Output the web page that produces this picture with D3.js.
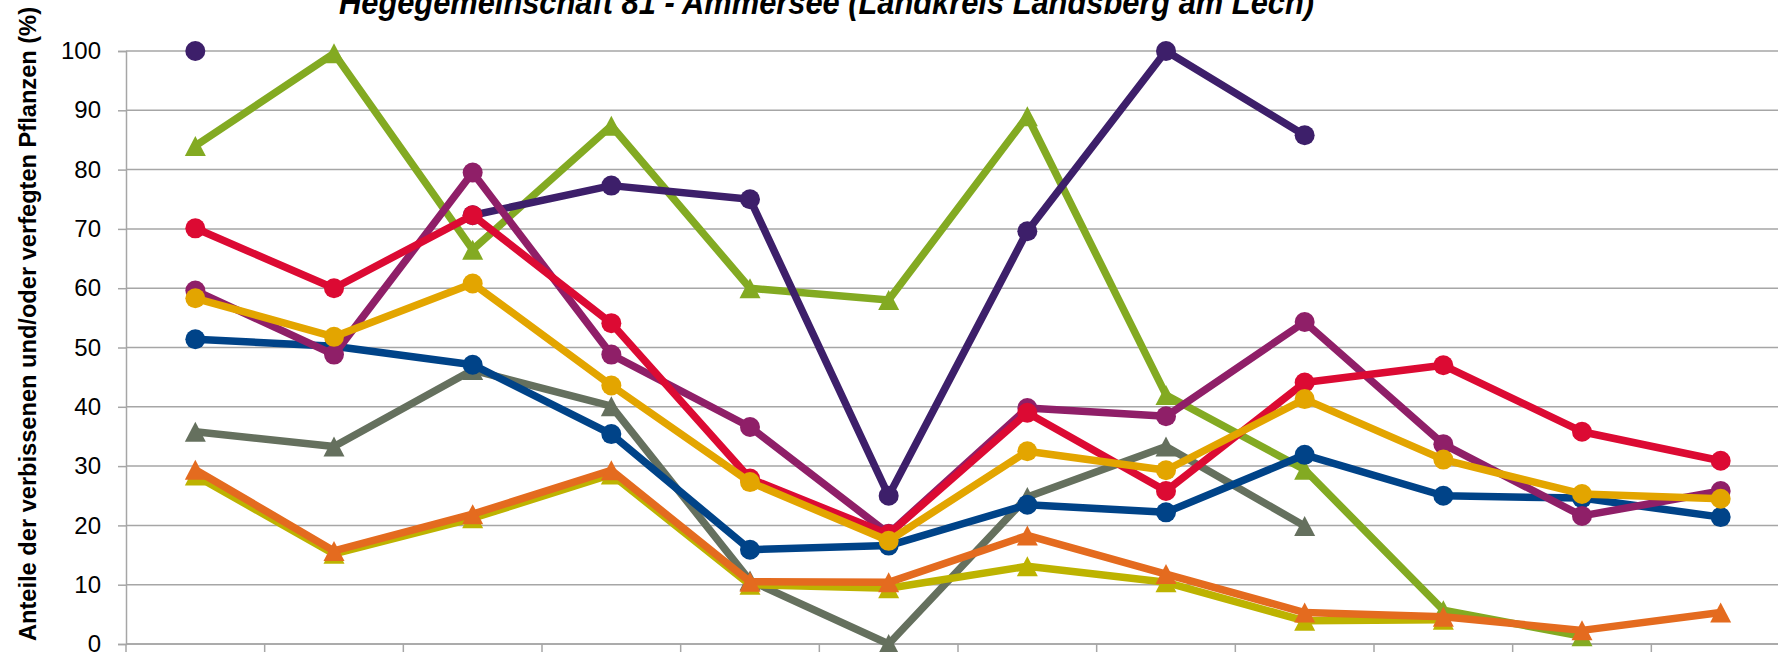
<!DOCTYPE html>
<html>
<head>
<meta charset="utf-8">
<script src="https://cdn.jsdelivr.net/npm/d3@7"></script>
<style>
  html, body { margin: 0; padding: 0; background: #ffffff; }
  svg { display: block; }
</style>
</head>
<body>
<svg id="chart" width="1778" height="652"></svg>
<script>
// ---- data ----
const categories = ["1991","1994","1997","2000","2003","2006","2009","2012","2015","2018","2021","2024"];
const yTicks = [0,10,20,30,40,50,60,70,80,90,100];
const titleText = "Hegegemeinschaft 81 - Ammersee (Landkreis Landsberg am Lech)";
const yLabel = "Anteile der verbissenen und/oder verfegten Pflanzen (%)";

const limeValues    = [84.0, 99.6, 66.5, 87.4, 60.0, 58.0, 89.0, 42.0, 29.4, 5.7, 1.3, null];
const grayValues    = [35.8, 33.3, 46.2, 40.1, 10.7, 0.0, 24.8, 33.3, 19.9, null, null, null];
const oliveValues   = [28.4, 15.2, 21.2, 28.6, 10.0, 9.4, 13.1, 10.4, 3.9, 4.1, null, null];
const orangeValues  = [29.4, 15.7, 21.9, 29.3, 10.5, 10.4, 18.3, 11.8, 5.3, 4.6, 2.3, 5.3];
const purpleValues  = [100.0, null, 72.3, 77.3, 75.0, 25.0, 69.6, 100.0, 85.8, null, null, null];
const blueValues    = [51.4, 50.2, 47.1, 35.4, 15.9, 16.6, 23.5, 22.2, 31.9, 25.0, 24.6, 21.4];
const magentaValues = [59.6, 48.8, 79.5, 48.8, 36.6, 18.6, 39.8, 38.4, 54.3, 33.7, 21.6, 25.8];
const redValues     = [70.1, 60.0, 72.3, 54.1, 27.9, 18.5, 39.0, 25.8, 44.1, 47.0, 35.8, 30.9];
const yellowValues  = [58.3, 51.8, 60.8, 43.6, 27.3, 17.4, 32.5, 29.3, 41.3, 31.1, 25.3, 24.5];

// drawing order: bottom to top
const series = [
  {name: "Reihe 1", values: limeValues,    color: "#83aa22", marker: "triangle"},
  {name: "Reihe 2", values: grayValues,    color: "#65705e", marker: "triangle"},
  {name: "Reihe 3", values: oliveValues,   color: "#bdb300", marker: "triangle"},
  {name: "Reihe 4", values: orangeValues,  color: "#e46b1f", marker: "triangle"},
  {name: "Reihe 5", values: purpleValues,  color: "#3d1f6a", marker: "circle"},
  {name: "Reihe 6", values: blueValues,    color: "#004388", marker: "circle"},
  {name: "Reihe 7", values: magentaValues, color: "#8f1f68", marker: "circle"},
  {name: "Reihe 8", values: redValues,     color: "#dc0a33", marker: "circle"},
  {name: "Reihe 9", values: yellowValues,  color: "#e3a500", marker: "circle"}
];

// ---- layout ----
const W = 1778, H = 652;
const plotLeft = 126, plotRight = 1790, plotTop = 51, plotBottom = 644;
const svg = d3.select("#chart");
svg.append("rect").attr("width", W).attr("height", H).attr("fill", "#ffffff");

const x = d3.scaleBand().domain(categories).range([plotLeft, plotRight]).paddingInner(0).paddingOuter(0);
const y = d3.scaleLinear().domain([0, 100]).range([plotBottom, plotTop]);
const gridColor = "#a6a6a6";

// gridlines
svg.append("g").selectAll("line").data(yTicks).join("line")
  .attr("x1", plotLeft).attr("x2", W)
  .attr("y1", d => y(d)).attr("y2", d => y(d))
  .attr("stroke", gridColor).attr("stroke-width", 1.5);

// y axis
const yAxis = d3.axisLeft(y).tickValues(yTicks).tickSize(8).tickPadding(17);
const gy = svg.append("g").attr("transform", `translate(${plotLeft},0)`).call(yAxis);
gy.select(".domain").attr("stroke", gridColor).attr("stroke-width", 1.5);
gy.selectAll(".tick line").attr("stroke", gridColor).attr("stroke-width", 1.5);
gy.selectAll(".tick text")
  .attr("font-family", "Liberation Sans, Arial, sans-serif")
  .attr("font-size", 24).attr("fill", "#000");

// x axis (labels cropped in reference; ticks at category boundaries)
const boundaries = categories.map(c => x(c)).concat([x.range()[1]]);
svg.append("line").attr("x1", plotLeft).attr("x2", W)
  .attr("y1", plotBottom).attr("y2", plotBottom)
  .attr("stroke", gridColor).attr("stroke-width", 1.5);
svg.append("g").selectAll("line").data(boundaries).join("line")
  .attr("x1", d => d).attr("x2", d => d)
  .attr("y1", plotBottom).attr("y2", plotBottom + 9)
  .attr("stroke", gridColor).attr("stroke-width", 1.5);

// y axis label
svg.append("text")
  .attr("transform", `translate(36,${324}) rotate(-90)`)
  .attr("text-anchor", "middle")
  .attr("font-family", "Liberation Sans, Arial, sans-serif")
  .attr("font-weight", "bold").attr("font-size", 23)
  .attr("textLength", 634).attr("lengthAdjust", "spacingAndGlyphs")
  .text(yLabel);

// title (top cropped as in the reference)
svg.append("text")
  .attr("x", 339).attr("y", 14)
  .attr("font-family", "Liberation Sans, Arial, sans-serif")
  .attr("font-weight", "bold").attr("font-style", "italic").attr("font-size", 34)
  .attr("textLength", 975).attr("lengthAdjust", "spacingAndGlyphs")
  .text(titleText);

// series
const cx = c => x(c) + x.bandwidth() / 2;
const line = d3.line()
  .defined(d => d.v !== null)
  .x(d => cx(d.c)).y(d => y(d.v));

const triPath = "M0,-10L10.5,10L-10.5,10Z";

series.forEach(s => {
  const pts = categories.map((c, i) => ({c, v: s.values[i]}));
  const g = svg.append("g");
  g.append("path").datum(pts)
    .attr("d", line)
    .attr("fill", "none").attr("stroke", s.color)
    .attr("stroke-width", 7.5).attr("stroke-linejoin", "round").attr("stroke-linecap", "round");
  const valid = pts.filter(d => d.v !== null);
  if (s.marker === "circle") {
    g.selectAll("circle").data(valid).join("circle")
      .attr("cx", d => cx(d.c)).attr("cy", d => y(d.v)).attr("r", 10)
      .attr("fill", s.color);
  } else {
    g.selectAll("path.m").data(valid).join("path").attr("class", "m")
      .attr("transform", d => `translate(${cx(d.c)},${y(d.v)})`)
      .attr("d", triPath).attr("fill", s.color);
  }
});
</script>
</body>
</html>
